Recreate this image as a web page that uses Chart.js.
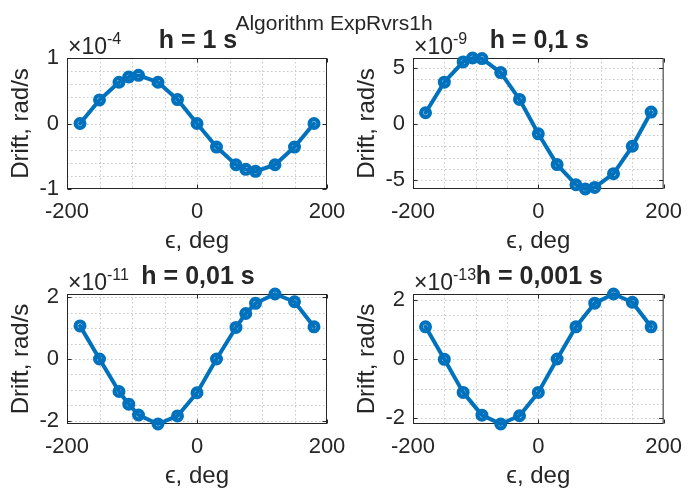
<!DOCTYPE html>
<html>
<head>
<meta charset="utf-8">
<script src="https://cdn.jsdelivr.net/npm/chart.js@4/dist/chart.umd.min.js"></script>
<style>
  html, body { margin: 0; padding: 0; background: #fff; }
  #fig { position: relative; width: 692px; height: 492px; overflow: hidden; background: #fff; }
  #fig canvas { position: absolute; left: 0; top: 0; }
</style>
</head>
<body>
<div id="fig"></div>
<script>
// Initial orientation error, degrees
const epsFine   = [-180, -150, -120, -105, -90, -60, -30, 0, 30, 60, 75, 90, 120, 150, 180];
const epsCoarse = [-180, -150, -120, -90, -60, -30, 0, 30, 60, 90, 120, 150, 180];

// Drift, rad/s (mantissas; the power of ten is shown above each axes)
const driftH1    = [0, 0.36, 0.63, 0.71, 0.735, 0.63, 0.365, 0, -0.36, -0.63, -0.70, -0.73, -0.63, -0.36, 0];
const driftH01   = [0.98, 3.7, 5.5, 5.85, 5.8, 4.55, 2.17, -0.89, -3.63, -5.42, -5.8, -5.66, -4.44, -2.0, 1.04];
const driftH001  = [1.07, 0, -1.05, -1.46, -1.81, -2.1, -1.84, -1.09, 0, 1.02, 1.47, 1.8, 2.1, 1.85, 1.04];
const driftH0001 = [1.1, 0, -1.12, -1.89, -2.19, -1.91, -1.12, 0.01, 1.1, 1.9, 2.21, 1.93, 1.1];

const exponents = ['-4', '-9', '-11', '-13'];
const stepTitles = ['h = 1 s', 'h = 0,1 s', 'h = 0,01 s', 'h = 0,001 s'];

// Tick labels
const xTicks   = [-200, 0, 200];
const yTicksH1 = [-1, 0, 1];
const yTicksH01 = [-5, 0, 5];
const yTicksSmall = [-2, 0, 2];

const figTitle = 'Algorithm ExpRvrs1h';
const xLabel = '\u03F5, deg';
const yLabel = 'Drift, rad/s';

const BLUE = '#0072BD';
const TXT = '#262626';
const FONT = '"Liberation Sans", Arial, Helvetica, sans-serif';
const W = 692, H = 492;

// MATLAB-like axes: dotted grid, boxed frame with inward ticks, title and exponent
const matlabAxes = {
  id: 'matlabAxes',
  beforeDatasetsDraw(chart, args, o) {
    const { ctx, chartArea: a, scales: { x, y } } = chart;
    const seg = (x1, y1, x2, y2) => { ctx.beginPath(); ctx.moveTo(x1, y1); ctx.lineTo(x2, y2); ctx.stroke(); };
    ctx.save();
    ctx.lineWidth = 1;
    ctx.strokeStyle = '#c8c8c8';
    ctx.setLineDash([1.5, 2.5]);
    for (let k = Math.ceil(x.min / o.xStep); k * o.xStep <= x.max + 1e-9; k++) {
      const px = Math.round(x.getPixelForValue(k * o.xStep)) + 0.5;
      if (px <= a.left + 1 || px >= a.right - 1) continue;
      seg(px, a.top, px, a.bottom);
    }
    for (let k = Math.ceil(y.min / o.yStep - 1e-9); k * o.yStep <= y.max + 1e-9; k++) {
      const py = Math.round(y.getPixelForValue(k * o.yStep)) + 0.5;
      if (py <= a.top + 1 || py >= a.bottom - 1) continue;
      seg(a.left, py, a.right, py);
    }
    ctx.setLineDash([]);
    ctx.strokeStyle = TXT;
    const L = a.left + 0.5, R = a.right - 0.5, T = a.top + 0.5, B = a.bottom - 0.5;
    ctx.strokeRect(L, T, R - L, B - T);
    const tl = 4;
    x.ticks.forEach(t => {
      const px = Math.round(x.getPixelForValue(t.value)) + 0.5;
      seg(px, B, px, B - tl);
      seg(px, T, px, T + tl);
    });
    y.ticks.forEach(t => {
      const py = Math.round(y.getPixelForValue(t.value)) + 0.5;
      seg(L, py, L + tl, py);
      seg(R, py, R - tl, py);
    });
    ctx.restore();
  },
  afterDraw(chart, args, o) {
    const { ctx, chartArea: a } = chart;
    ctx.save();
    ctx.fillStyle = TXT;
    ctx.textBaseline = 'alphabetic';
    // exponent of the y axis
    ctx.textAlign = 'left';
    ctx.font = '23px ' + FONT;
    ctx.fillText('\u00D710', a.left + 1, a.top - 4);
    const w = ctx.measureText('\u00D710').width;
    ctx.font = '16px ' + FONT;
    ctx.fillText(o.exponent, a.left + 1 + w, a.top - 14);
    // panel title
    ctx.textAlign = 'center';
    ctx.font = 'bold 25px ' + FONT;
    ctx.fillText(o.title, (a.left + a.right) / 2 + 1, a.top - 10);
    // figure title
    if (o.figTitle) {
      ctx.font = '21px ' + FONT;
      ctx.fillText(o.figTitle, 334, 30);
    }
    ctx.restore();
  }
};

function panel(cfg) {
  const cv = document.createElement('canvas');
  cv.width = W; cv.height = H;
  document.getElementById('fig').appendChild(cv);
  const a = cfg.area;
  const Y_W = 67, X_H = 67;
  const yMin = cfg.yLim ? cfg.yLim[0] : Math.min(...cfg.values);
  const yMax = cfg.yLim ? cfg.yLim[1] : Math.max(...cfg.values);
  const tickFont = { family: FONT, size: 22 };
  const labelFont = { family: FONT, size: 24 };
  new Chart(cv, {
    type: 'line',
    data: {
      datasets: [{
        data: cfg.eps.map((e, i) => ({ x: e, y: cfg.values[i] })),
        borderColor: BLUE,
        borderWidth: 4,
        borderJoinStyle: 'round',
        borderCapStyle: 'round',
        pointRadius: 4.4,
        pointBorderWidth: 4.2,
        pointBorderColor: BLUE,
        pointBackgroundColor: 'rgba(0,0,0,0)',
        tension: 0,
        clip: false
      }]
    },
    options: {
      responsive: false,
      devicePixelRatio: 1,
      animation: false,
      events: [],
      layout: { padding: { left: a.left - Y_W, top: a.top, right: W - a.right, bottom: H - a.bottom - X_H } },
      scales: {
        x: {
          type: 'linear', min: -200, max: 200,
          afterFit: s => { s.height = X_H; },
          afterBuildTicks: s => { s.ticks = xTicks.map(v => ({ value: v })); },
          grid: { display: false, drawTicks: false },
          border: { display: false },
          ticks: { autoSkip: false, maxRotation: 0, padding: 10, color: TXT, font: tickFont, callback: v => String(v) },
          title: { display: true, text: xLabel, color: TXT, font: labelFont, padding: { top: 0, bottom: 0 } }
        },
        y: {
          type: 'linear', min: yMin, max: yMax,
          afterFit: s => { s.width = Y_W; },
          afterBuildTicks: s => { s.ticks = cfg.yTicks.map(v => ({ value: v })); },
          grid: { display: false, drawTicks: false },
          border: { display: false },
          ticks: { autoSkip: false, padding: 8, color: TXT, font: tickFont, callback: v => String(v) },
          title: { display: true, text: yLabel, color: TXT, font: labelFont, padding: { top: 6.6, bottom: 0 } }
        }
      },
      plugins: {
        legend: { display: false },
        tooltip: { enabled: false },
        matlabAxes: { xStep: 50, yStep: cfg.yStep, exponent: cfg.exponent, title: cfg.title, figTitle: cfg.figTitle }
      }
    },
    plugins: [matlabAxes]
  });
}

panel({ area: { left: 67, top: 58, right: 327, bottom: 189 }, eps: epsFine, values: driftH1,
        yLim: [-1, 1], yTicks: yTicksH1, yStep: 0.2, exponent: exponents[0], title: stepTitles[0], figTitle: figTitle });
panel({ area: { left: 413, top: 58, right: 672, bottom: 189 }, eps: epsFine, values: driftH01,
        yTicks: yTicksH01, yStep: 1, exponent: exponents[1], title: stepTitles[1] });
panel({ area: { left: 67, top: 294, right: 327, bottom: 424 }, eps: epsFine, values: driftH001,
        yTicks: yTicksSmall, yStep: 0.5, exponent: exponents[2], title: stepTitles[2] });
panel({ area: { left: 413, top: 294, right: 672, bottom: 424 }, eps: epsCoarse, values: driftH0001,
        yTicks: yTicksSmall, yStep: 0.5, exponent: exponents[3], title: stepTitles[3] });
</script>
</body>
</html>
